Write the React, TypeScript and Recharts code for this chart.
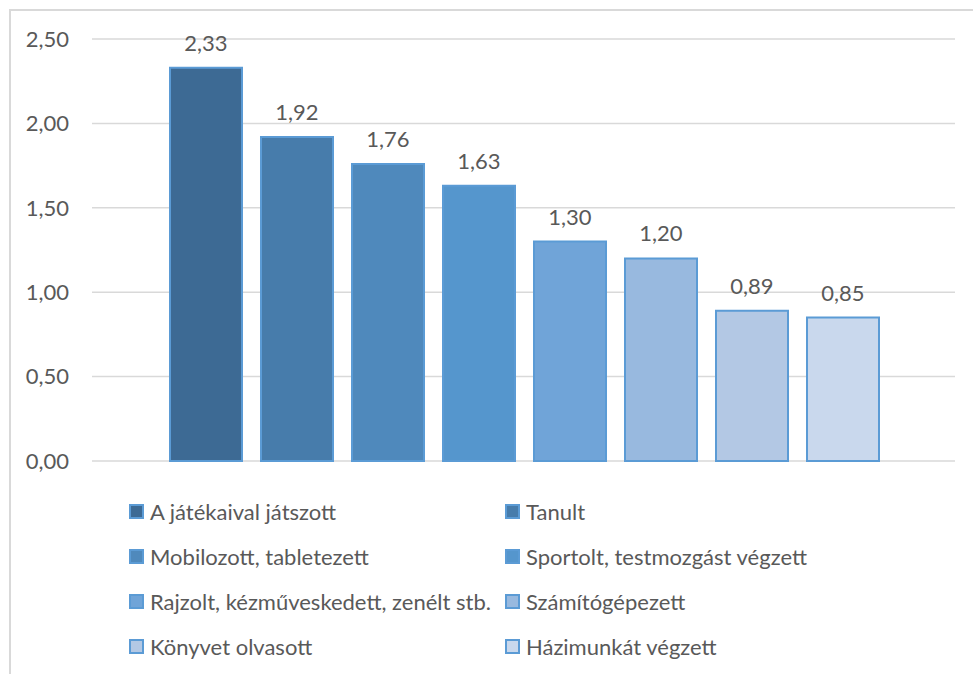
import React from "react";
import { BarChart, Bar, XAxis, YAxis, CartesianGrid, Legend, LabelList } from "recharts";

const seriesNames = [
  "A játékaival játszott",
  "Tanult",
  "Mobilozott, tabletezett",
  "Sportolt, testmozgást végzett",
  "Rajzolt, kézműveskedett, zenélt stb.",
  "Számítógépezett",
  "Könyvet olvasott",
  "Házimunkát végzett",
];
const seriesValues = [2.33, 1.92, 1.76, 1.63, 1.3, 1.2, 0.89, 0.85];
const seriesColors = ["#3D6A94", "#477CAB", "#4F89BC", "#5596CD", "#70A4D8", "#98B9DF", "#B3C8E4", "#C9D8ED"];
const yTicks = [0, 0.5, 1, 1.5, 2, 2.5];

const FONT = "Lato, 'Open Sans', sans-serif";
const TEXT = "#595959";
const EDGE = "#5B9BD5";

const fmt = (v: number) => Number(v).toFixed(2).replace(".", ",");

const row: Record<string, number | string> = { name: "" };
seriesValues.forEach((v, i) => (row[`s${i}`] = v));
const data = [row];

// legend keeps the series order (Recharts would sort it by name)
function LegendGrid() {
  return (
    <div style={{ paddingLeft: 119, paddingTop: 28, display: "grid", gridTemplateColumns: "376px 400px", fontFamily: FONT }}>
      {seriesNames.map((n, i) => (
        <div key={n} style={{ height: 45, display: "flex", alignItems: "center", color: TEXT, fontSize: 22 }}>
          <span style={{ width: 11, height: 11, background: seriesColors[i], border: `2px solid ${EDGE}`, marginRight: 6, display: "inline-block" }} />
          {n}
        </div>
      ))}
    </div>
  );
}

export default function App() {
  return (
    <div style={{ position: "absolute", left: 0, top: 0, width: 973, height: 674, background: "#fff", overflow: "hidden" }}>
      <div style={{ position: "absolute", left: 9, top: 9, width: 970, height: 670, borderTop: "2px solid #D9D9D9", borderLeft: "2px solid #D9D9D9" }} />
      <div style={{ position: "absolute", left: 10, top: 10 }}>
        <BarChart width={963} height={664} data={data} margin={{ top: 29, right: 18, left: 0, bottom: 0 }} barCategoryGap={78} barGap={19}>
          <CartesianGrid vertical={false} stroke="#D9D9D9" strokeWidth={1.5} />
          <XAxis dataKey="name" hide />
          <YAxis
            width={82}
            domain={[0, 2.5]}
            ticks={yTicks}
            axisLine={false}
            tickLine={false}
            tickSize={0}
            tickMargin={23}
            tickFormatter={fmt}
            tick={{ fill: TEXT, fontSize: 22, fontFamily: FONT }}
          />
          <Legend verticalAlign="bottom" align="left" height={213} content={<LegendGrid />} />
          {seriesNames.map((n, i) => (
            <Bar key={n} dataKey={`s${i}`} name={n} fill={seriesColors[i]} stroke={EDGE} strokeWidth={2} isAnimationActive={false}>
              <LabelList dataKey={`s${i}`} position="top" offset={17} formatter={fmt} style={{ fill: TEXT, fontSize: 22, fontFamily: FONT }} />
            </Bar>
          ))}
        </BarChart>
      </div>
    </div>
  );
}
